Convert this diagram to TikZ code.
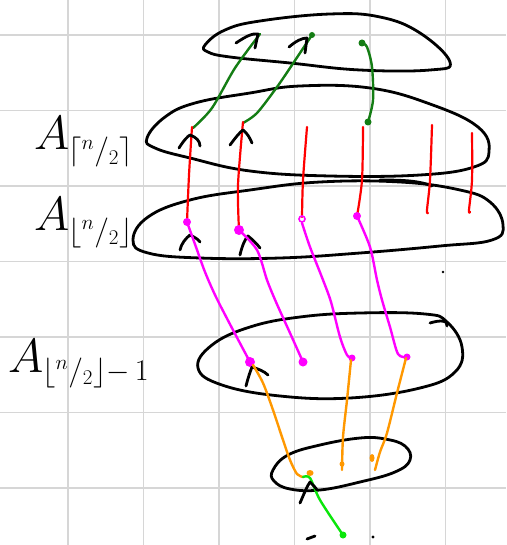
\RequirePackage{fix-cm}
\documentclass[tikz,border=0pt]{standalone}
\usetikzlibrary{calc}
\definecolor{dkgreen}{RGB}{20,125,20}
\definecolor{orangeink}{RGB}{255,152,0}
\definecolor{limeink}{RGB}{10,230,10}
\definecolor{magink}{RGB}{255,0,255}
\definecolor{gridgray}{RGB}{214,214,214}
\begin{document}
\begin{tikzpicture}[x=1pt,y=-1pt,
  gridline/.style={draw=gridgray,line width=1.8pt},
  ink/.style={draw=black,line width=2.8pt,line cap=round,line join=round},
  redpen/.style={draw=red,line width=2.2pt,line cap=round,line join=round},
  magpen/.style={draw=magink,line width=2.4pt,line cap=round,line join=round},
  orgpen/.style={draw=orangeink,line width=2.4pt,line cap=round,line join=round},
  grnpen/.style={draw=dkgreen,line width=2.4pt,line cap=round,line join=round},
  limepen/.style={draw=limeink,line width=2.4pt,line cap=round,line join=round},
  bigA/.style={inner sep=0pt,anchor=base west,font=\fontsize{48}{52}\selectfont},
  subtxt/.style={inner sep=0pt,anchor=base west,font=\fontsize{30}{34}\selectfont}
]
\useasboundingbox (0,0) rectangle (506,545);
\fill[white] (0,0) rectangle (506,545);
% grid
\foreach \x in {-7.5,68,143.5,219,294.5,370,445.5} \draw[gridline] (\x,0) -- (\x,545);
\foreach \y in {35,110.5,186,261.5,337,412.5,488} \draw[gridline] (0,\y) -- (506,\y);

% ellipses (hand drawn)
\draw[ink] plot[smooth cycle,tension=0.7] coordinates {(205,45) (225,30) (260,21) (330,14) (380,17) (420,33) (450,62) (430,70) (360,70) (290,63) (230,57) (208,52)};
\draw[ink] plot[smooth cycle,tension=0.7] coordinates {(147,138) (165,117) (195,103) (250,93) (300,86) (370,88) (430,104) (478,127) (489,152) (474,167) (420,175) (330,176) (250,171) (190,158) (155,148)};
\draw[ink] plot[smooth cycle,tension=0.7] coordinates {(133,240) (148,217) (190,200) (250,190) (320,182) (400,182) (460,190) (490,202) (503,225) (492,240) (440,246) (360,253) (280,258) (200,258) (148,253)};
\draw[ink] (380,180) .. controls (405,180) and (420,181) .. (432,186);
\draw[ink] plot[smooth cycle,tension=0.7] coordinates {(198,368) (212,345) (250,327) (300,317) (360,313) (425,314) (447,322) (462,347) (455,372) (420,388) (350,398) (280,396) (222,385)};
\draw[ink] (430,323) .. controls (440,320) and (448,320) .. (447,326);
\draw[ink] plot[smooth cycle,tension=0.7] coordinates {(273,470) (288,455) (320,445) (360,438) (385,439) (405,446) (410,460) (395,472) (360,482) (320,490) (290,489) (274,481)};

% labels
\node[bigA] (a1) at (34,150) {$A$};
\node[subtxt] (a1s) at (68,160) {$\lceil{}^{n}/_{2}\rceil$};
\node[bigA] (a2) at (34,230) {$A$};
\node[subtxt] (a2s) at (68,240) {$\lfloor{}^{n}/_{2}\rfloor$};
\node[bigA] (a3) at (8,372) {$A$};
\node[subtxt] (a3s) at (42,380) {$\lfloor{}^{n}/_{2}\rfloor{-}\,1$};

% green (top)
\coordinate (g1s) at (193,128); \coordinate (g1e) at (260,34);
\coordinate (g2s) at (243,123); \coordinate (g2e) at (312,35);
\coordinate (g3s) at (368,122); \coordinate (g3e) at (362,43);
\draw[grnpen] plot[smooth] coordinates {(g1s) (212,108) (235,68) (g1e)};
\draw[grnpen] plot[smooth] coordinates {(g2s) (257,113) (277,87) (292,65) (g2e)};
\draw[grnpen] plot[smooth] coordinates {(g3s) (373,100) (372,67) (367,47) (g3e)};
\fill[dkgreen] (g2e) circle (3pt);
\fill[dkgreen] (g3e) circle (3.5pt);
\fill[dkgreen] (g3s) circle (3.5pt);
\draw[ink] (236,43) .. controls (245,37) and (252,33) .. (258,34) -- (255,48);
\draw[ink] (289,47) .. controls (296,41) and (302,38) .. (307,38) -- (305,53);

% red
\coordinate (r1s) at (192,127); \coordinate (r1e) at (187,222);
\coordinate (r2s) at (243,122); \coordinate (r2e) at (239,230);
\coordinate (r3s) at (307,127); \coordinate (r3e) at (302,217);
\coordinate (r4s) at (363,127); \coordinate (r4e) at (357,216);
\coordinate (r5s) at (432,125); \coordinate (r5e) at (428,213);
\coordinate (r6s) at (472,133); \coordinate (r6e) at (470,212);
\draw[redpen] plot[smooth] coordinates {(r1s) (189,175) (r1e)};
\draw[redpen] plot[smooth] coordinates {(r2s) (238,185) (r2e)};
\draw[redpen] plot[smooth] coordinates {(r3s) (303,180) (r3e)};
\draw[redpen] plot[smooth] coordinates {(r4s) (362,180) (r4e)};
\draw[redpen] plot[smooth] coordinates {(r5s) (430,180) (427,210) (r5e)};
\draw[redpen] plot[smooth] coordinates {(r6s) (472,180) (469,210) (r6e)};
\draw[ink] (179,148) .. controls (184,140) and (188,136) .. (190,135) .. controls (196,137) and (200,141) .. (200,146);
\draw[ink] (230,145) .. controls (236,137) and (240,132) .. (243,130) .. controls (247,133) and (250,138) .. (252,143);
\draw[ink] (180,250) .. controls (181,244) and (186,238) .. (190,235) .. controls (194,237) and (198,239) .. (200,242);
\draw[ink] (240,255) .. controls (242,246) and (245,239) .. (248,236) .. controls (253,240) and (257,244) .. (260,248);

% magenta
\coordinate (m1e) at (250,362);
\coordinate (m2e) at (303,362);
\coordinate (m3e) at (352,358);
\coordinate (m4e) at (407,357);
\draw[magpen] plot[smooth] coordinates {(r1e) (196,247) (205,272) (216,297) (233,330) (m1e)};
\draw[magpen] plot[smooth] coordinates {(r2e) (257,250) (267,280) (276,302) (290,333) (m2e)};
\draw[magpen] plot[smooth] coordinates {(302,223) (310,247) (323,280) (331,302) (340,337) (347,355) (m3e)};
\draw[magpen] plot[smooth] coordinates {(r4e) (370,247) (377,280) (382,300) (390,327) (398,354) (m4e)};
\fill[magink] (r1e) circle (4pt);
\fill[magink] (r2e) circle (5pt);
\draw[magink,line width=1.6pt] (302,219) circle (3pt);
\fill[magink] (r4e) circle (4pt);
\fill[magink] (m1e) circle (5pt);
\fill[magink] (m2e) circle (4.5pt);
\fill[magink] (m3e) circle (3.5pt);
\fill[magink] (m4e) circle (3.5pt);
\draw[ink] (246,386) .. controls (248,378) and (250,372) .. (252,367) .. controls (258,369) and (264,371) .. (268,375);

% orange
\coordinate (o1e) at (303,477);
\coordinate (o2e) at (342,470);
\coordinate (o3e) at (375,470);
\draw[orgpen] plot[smooth] coordinates {(253,365) (263,383) (273,410) (282,437) (290,460) (297,474) (o1e)};
\draw[orgpen] plot[smooth] coordinates {(351,360) (347,400) (343,437) (o2e)};
\draw[orgpen] plot[smooth] coordinates {(406,358) (397,393) (387,433) (380,452) (o3e)};
\fill[orangeink] (310,473) ellipse (3.5pt and 3pt);
\fill[orangeink] (342,464) circle (2.5pt);
\fill[orangeink] (372,458) ellipse (2.5pt and 4pt);

% lime green (bottom)
\coordinate (l1e) at (343,535);
\draw[limepen] plot[smooth] coordinates {(o1e) (310,478) (320,500) (l1e)};
\fill[limeink] (l1e) circle (3.5pt);
\draw[ink] (300,503) .. controls (304,494) and (307,486) .. (310,482) .. controls (313,485) and (316,488) .. (317,490);

% stray marks
\draw[ink] (307,539) -- (315,536);
\fill[black] (373,537) circle (1.6pt);
\fill[black] (443,272) circle (1.4pt);
\end{tikzpicture}
\end{document}
